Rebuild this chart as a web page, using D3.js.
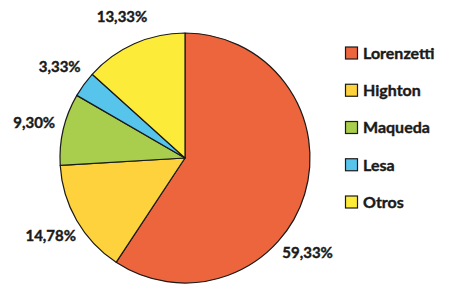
<!DOCTYPE html>
<html>
<head>
<meta charset="utf-8">
<script src="https://cdn.jsdelivr.net/npm/d3@7"></script>
<style>
  body { margin: 0; background: #fff; }
  svg { display: block; }
</style>
</head>
<body>
<svg id="chart"></svg>
<script>
const categories = ["Lorenzetti", "Highton", "Maqueda", "Lesa", "Otros"];
const values = [59.33, 14.78, 9.30, 3.33, 13.33];
const labels = ["59,33%", "14,78%", "9,30%", "3,33%", "13,33%"];
const colors = ["#ec653d", "#fdd23c", "#a9cd4c", "#57c4ec", "#fdeb3a"];

const width = 450, height = 294;
const cx = 185, cy = 158, radius = 125;
const labelRadius = 155;
// Excel "best fit" nudged the big label round the rim (degrees)
const labelShift = [21, 0, 0, 0, 0];

const svg = d3.select("#chart")
    .attr("width", width)
    .attr("height", height)
    .style("font-family", "Lato, 'Open Sans', sans-serif")
    .style("font-weight", "bold");

const data = categories.map((c, i) => ({ name: c, value: values[i], label: labels[i], color: colors[i], shift: labelShift[i] }));

const pie = d3.pie()
    .sort(null)
    .value(d => d.value);

const arc = d3.arc()
    .innerRadius(0)
    .outerRadius(radius);

const g = svg.append("g")
    .attr("transform", `translate(${cx},${cy})`);

const arcs = pie(data);

g.selectAll("path")
    .data(arcs)
    .enter()
    .append("path")
    .attr("d", arc)
    .attr("fill", d => d.data.color)
    .attr("stroke", "#1a1a1a")
    .attr("stroke-width", 1.2)
    .attr("stroke-linejoin", "round");

// percentage labels outside the pie
g.selectAll("text.pct")
    .data(arcs)
    .enter()
    .append("text")
    .attr("class", "pct")
    .attr("x", d => {
        let a = (d.startAngle + d.endAngle) / 2 + d.data.shift * Math.PI / 180;
        return Math.sin(a) * labelRadius;
    })
    .attr("y", d => {
        let a = (d.startAngle + d.endAngle) / 2 + d.data.shift * Math.PI / 180;
        return -Math.cos(a) * labelRadius;
    })
    .attr("dy", "0.35em")
    .attr("text-anchor", "middle")
    .attr("font-size", 15)
    .attr("fill", "#1a1a1a")
    .attr("stroke", "#1a1a1a")
    .attr("stroke-width", 0.4)
    .text(d => d.data.label);

// legend
const legendY = d3.scalePoint()
    .domain(categories)
    .range([53, 202]);

const legend = svg.append("g")
    .selectAll("g")
    .data(data)
    .enter()
    .append("g")
    .attr("transform", d => `translate(345,${legendY(d.name)})`);

legend.append("rect")
    .attr("x", 0.5)
    .attr("y", -6)
    .attr("width", 12)
    .attr("height", 12)
    .attr("fill", d => d.color)
    .attr("stroke", "#1a1a1a")
    .attr("stroke-width", 1.2);

legend.append("text")
    .attr("x", 18)
    .attr("dy", "0.36em")
    .attr("font-size", 16)
    .attr("fill", "#1a1a1a")
    .attr("stroke", "#1a1a1a")
    .attr("stroke-width", 0.4)
    .text(d => d.name);
</script>
</body>
</html>
